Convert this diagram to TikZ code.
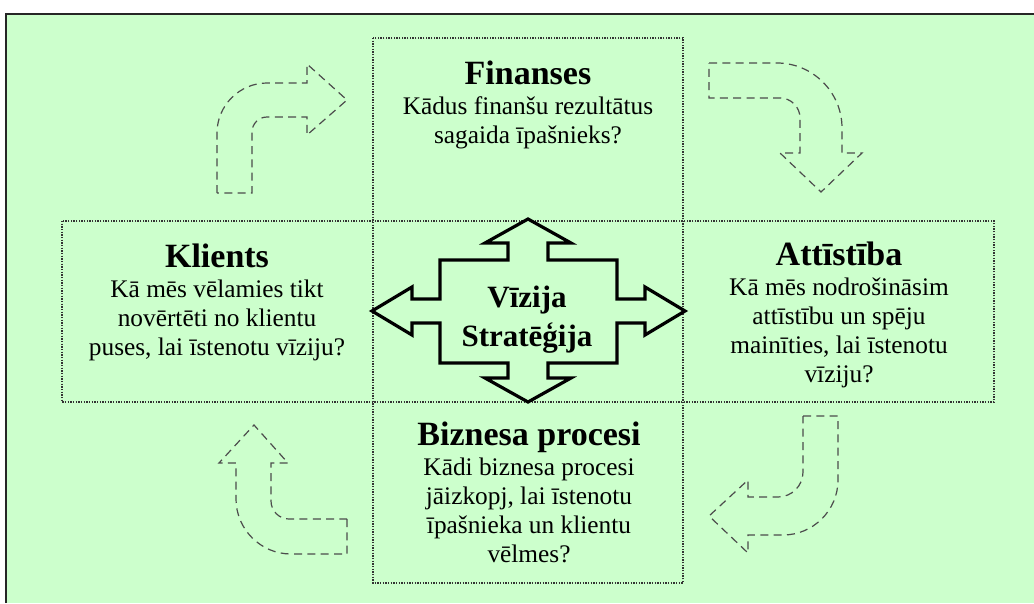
\documentclass[tikz,border=0pt]{standalone}
\usepackage{fontspec}
\setmainfont{Liberation Serif}
\usetikzlibrary{positioning}
\definecolor{bscgreen}{RGB}{204,255,204}

\begin{document}
\begin{tikzpicture}[x=0.75pt,y=-0.75pt,
  frame line/.style={draw=black!85,line width=2pt},
  grid line/.style={draw=black!80,line width=1.1pt,dash pattern=on 1.1pt off 0.9pt},
  turn arrow/.style={draw=black!70,line width=0.9pt,dash pattern=on 6pt off 4pt},
  vision arrow/.style={draw=black,line width=2.4pt,fill=bscgreen,line join=miter},
  ptitle/.style={font=\fontsize{25.5}{30}\selectfont\bfseries,inner sep=0pt,anchor=base},
  question/.style={font=\fontsize{19}{21.75}\selectfont,align=center,inner sep=0pt},
  centre text/.style={font=\fontsize{23.25}{29.25}\selectfont\bfseries,align=center,inner sep=0pt,anchor=north}]
\useasboundingbox (0,0) rectangle (1034,603);
% Background and frame
\fill[white] (0,0) rectangle (1034,603);
\fill[bscgreen] (6,14) rectangle (1034,603);
\draw[frame line] (6,603) -- (6,14) -- (1034,14);
% Dotted cross
\draw[grid line] (373,38) rectangle (683,583);
\draw[grid line] (62,221) rectangle (994,402);
% Centre four-way arrow
\draw[vision arrow] (528,219) -- (571,243) -- (548,243) -- (548,260) -- (617,260)
  -- (617,299) -- (645,299) -- (645,287) -- (685,311) -- (645,335) -- (645,323)
  -- (617,323) -- (617,363) -- (548,363) -- (548,378) -- (571,378) -- (528,402)
  -- (485,378) -- (508,378) -- (508,363) -- (440,363) -- (440,323) -- (412,323)
  -- (412,335) -- (372,311) -- (412,287) -- (412,299) -- (440,299) -- (440,260)
  -- (508,260) -- (508,243) -- (485,243) -- cycle;
\node[centre text] (vis) at (527,285.5) {Vīzija\\Stratēģija};
% Turning arrows, clockwise
\draw[turn arrow] (217,193) -- (217,133) .. controls (217,105.5) and (239.5,83) .. (267,83)
  -- (307,83) -- (307,64) -- (347,100) -- (307,135) -- (307,117) -- (267,117)
  .. controls (258.75,117) and (252,123.75) .. (252,132) -- (252,193) -- cycle;
\draw[turn arrow] (709,63) -- (777,63) .. controls (812.75,63) and (842,92.25) .. (842,128)
  -- (842,153) -- (862,153) -- (821,192) -- (780,153) -- (800,153) -- (800,118)
  .. controls (800,107) and (791,98) .. (780,98) -- (709,98) -- cycle;
\draw[turn arrow] (803,416) -- (838,416) -- (838,480) .. controls (838,510.25) and (813.25,535) .. (783,535)
  -- (748,535) -- (748,553) -- (709,516) -- (748,480) -- (748,497) -- (778,497)
  .. controls (791.75,497) and (803,485.75) .. (803,472) -- cycle;
\draw[turn arrow] (347,519) -- (347,554) -- (291,554) .. controls (260.75,554) and (236,529.25) .. (236,499)
  -- (236,463) -- (219,463) -- (254,425) -- (288,463) -- (271,463) -- (271,501)
  .. controls (271,510.9) and (279.1,519) .. (289,519) -- cycle;
% Perspectives
\node[ptitle] (fin) at (528,84) {Finanses};
\node[question,below=9.5pt of fin.base] (finq) {Kādus finanšu rezultātus\\sagaida īpašnieks?};
\node[ptitle] (kli) at (217,267) {Klients};
\node[question,below=9.5pt of kli.base] (kliq) {Kā mēs vēlamies tikt\\novērtēti no klientu\\puses, lai īstenotu vīziju?};
\node[ptitle] (att) at (839,265) {Attīstība};
\node[question,below=9.5pt of att.base] (attq) {Kā mēs nodrošināsim\\attīstību un spēju\\mainīties, lai īstenotu\\vīziju?};
\node[ptitle] (biz) at (529,445) {Biznesa procesi};
\node[question,below=9.5pt of biz.base] (bizq) {Kādi biznesa procesi\\jāizkopj, lai īstenotu\\īpašnieka un klientu\\vēlmes?};
\end{tikzpicture}
\end{document}
